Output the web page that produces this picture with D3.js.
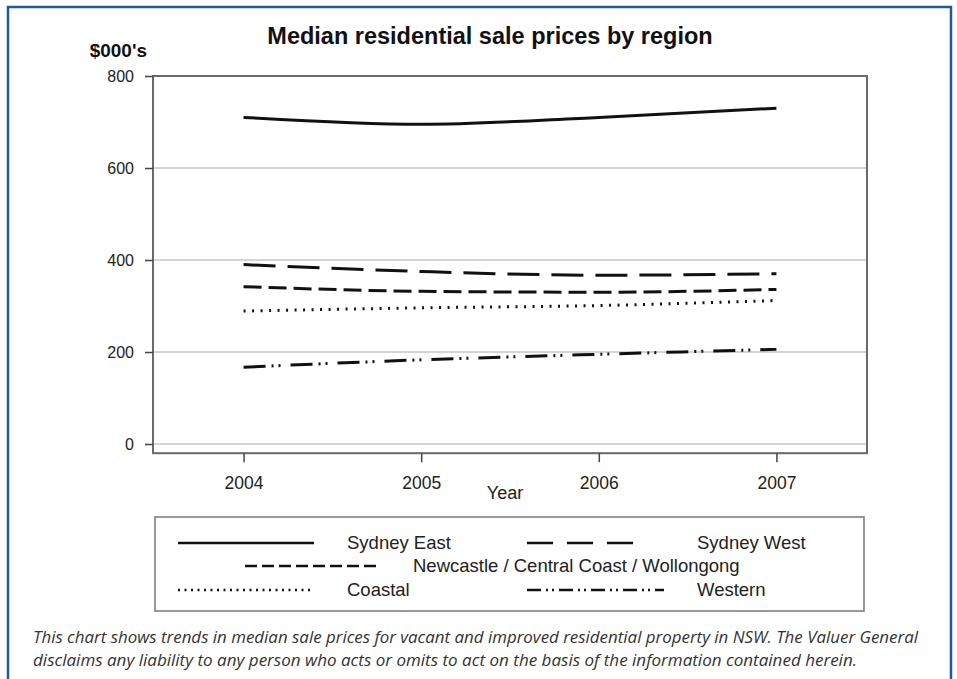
<!DOCTYPE html>
<html>
  <head>
    <title>Median residential sale prices by region</title>
    <script src="https://cdn.jsdelivr.net/npm/d3@7/dist/d3.min.js"></script>
    <style type="text/css">
      body { margin: 0; background: #fff; }
      svg { display: block; }
    </style>
  </head>
  <body>
    <script type="text/javascript">

      // Data
      var years = [2004, 2005, 2006, 2007];
      var seriesNames = ["Sydney East", "Sydney West", "Newcastle / Central Coast / Wollongong", "Coastal", "Western"];
      var sydneyEast = [710, 695, 710, 730];
      var sydneyWest = [390, 375, 367, 370];
      var newcastle = [342, 332, 330, 336];
      var coastal = [289, 296, 301, 312];
      var western = [167, 183, 195, 206];
      var yTicks = [0, 200, 400, 600, 800];

      var allValues = [sydneyEast, sydneyWest, newcastle, coastal, western];
      // dash patterns: [in plot, in legend]
      var dashes = [
        ["none", "none"],
        ["32,12", "26,14"],
        ["18,7", "12,5"],
        ["2,6.5", "2,4.5"],
        ["22,6,2,5,2,10", "14,5,2,4,2,5"]
      ];

      var font = "Liberation Sans, Arial, sans-serif";
      var width = 957, height = 679;
      var svg = d3.select("body").append("svg")
          .attr("width", width)
          .attr("height", height);

      // Blue outer border
      svg.append("rect")
          .attr("x", 8).attr("y", 7)
          .attr("width", 943).attr("height", 700)
          .style("fill", "none")
          .style("stroke", "#1f5b98")
          .style("stroke-width", 2.5);

      // Scales
      var x = d3.scaleLinear().domain([2003.49, 2007.51]).range([153, 867]);
      var y = d3.scaleLinear().domain([0, 800]).range([444, 76]);

      // Gridlines
      svg.append("g").selectAll("line")
          .data(yTicks.slice(0, 4))
          .enter().append("line")
          .attr("x1", x(2003.49)).attr("x2", x(2007.51))
          .attr("y1", function(d) { return y(d); })
          .attr("y2", function(d) { return y(d); })
          .style("stroke", "#d4d4d4")
          .style("stroke-width", 2);

      // Frame
      svg.append("rect")
          .attr("x", x(2003.49)).attr("y", y(800))
          .attr("width", x(2007.51) - x(2003.49))
          .attr("height", y(-20) - y(800))
          .style("fill", "none")
          .style("stroke", "#6a6a6a")
          .style("stroke-width", 2);

      // Y axis
      var yAxis = svg.append("g")
          .attr("transform", "translate(" + x(2003.49) + ",0)")
          .call(d3.axisLeft(y).tickValues(yTicks).tickSize(8).tickPadding(11));
      yAxis.select(".domain").remove();
      yAxis.selectAll("line").style("stroke", "#444").style("stroke-width", 1.5);
      yAxis.selectAll("text")
          .style("font-family", font)
          .style("font-size", "16px")
          .style("fill", "#222");

      // X axis
      var xAxis = svg.append("g")
          .attr("transform", "translate(0," + y(-20) + ")")
          .call(d3.axisBottom(x).tickValues(years).tickFormat(d3.format("d")).tickSize(9).tickPadding(14));
      xAxis.select(".domain").remove();
      xAxis.selectAll("line").style("stroke", "#444").style("stroke-width", 1.5);
      xAxis.selectAll("text")
          .style("font-family", font)
          .style("font-size", "17.5px")
          .style("fill", "#222");

      svg.append("text")
          .attr("x", 505).attr("y", 499)
          .attr("text-anchor", "middle")
          .style("font-family", font)
          .style("font-size", "18px")
          .style("fill", "#222")
          .text("Year");

      // Titles
      svg.append("text")
          .attr("x", 490).attr("y", 44)
          .attr("text-anchor", "middle")
          .style("font-family", font)
          .style("font-weight", "bold")
          .style("font-size", "23.5px")
          .style("fill", "#111")
          .text("Median residential sale prices by region");

      svg.append("text")
          .attr("x", 147).attr("y", 57)
          .attr("text-anchor", "end")
          .style("font-family", font)
          .style("font-weight", "bold")
          .style("font-size", "19px")
          .style("fill", "#111")
          .text("$000's");

      // Lines
      var line = d3.line()
          .x(function(d, i) { return x(years[i]); })
          .y(function(d) { return y(d); })
          .curve(d3.curveMonotoneX);

      svg.append("g").selectAll("path")
          .data(allValues)
          .enter().append("path")
          .attr("d", line)
          .style("fill", "none")
          .style("stroke", "#111")
          .style("stroke-width", 3)
          .style("stroke-dasharray", function(d, i) { return dashes[i][0]; });

      // Legend
      svg.append("rect")
          .attr("x", 155).attr("y", 517)
          .attr("width", 709).attr("height", 94)
          .style("fill", "none")
          .style("stroke", "#777")
          .style("stroke-width", 1.5);

      var legendPos = [
        { x1: 178, x2: 314, tx: 347, ty: 543 },
        { x1: 527, x2: 633, tx: 697, ty: 543 },
        { x1: 245, x2: 380, tx: 413, ty: 566 },
        { x1: 178, x2: 314, tx: 347, ty: 590 },
        { x1: 527, x2: 664, tx: 697, ty: 590 }
      ];

      var legend = svg.append("g").selectAll("g")
          .data(seriesNames)
          .enter().append("g");

      legend.append("line")
          .attr("x1", function(d, i) { return legendPos[i].x1; })
          .attr("x2", function(d, i) { return legendPos[i].x2; })
          .attr("y1", function(d, i) { return legendPos[i].ty; })
          .attr("y2", function(d, i) { return legendPos[i].ty; })
          .style("stroke", "#111")
          .style("stroke-width", 2.5)
          .style("stroke-dasharray", function(d, i) { return dashes[i][1]; });

      legend.append("text")
          .attr("x", function(d, i) { return legendPos[i].tx; })
          .attr("y", function(d, i) { return legendPos[i].ty + 6; })
          .style("font-family", font)
          .style("font-size", "18.5px")
          .style("fill", "#222")
          .text(function(d) { return d; });

      // Footnote
      var note = [
        "This chart shows trends in median sale prices for vacant and improved residential property in NSW. The Valuer General",
        "disclaims any liability to any person who acts or omits to act on the basis of the information contained herein."
      ];
      var noteWidths = [885, 824];
      svg.append("g").selectAll("text")
          .data(note)
          .enter().append("text")
          .attr("x", 33)
          .attr("y", function(d, i) { return 643 + i * 23; })
          .attr("textLength", function(d, i) { return noteWidths[i]; })
          .attr("lengthAdjust", "spacingAndGlyphs")
          .style("font-family", "Open Sans, sans-serif")
          .style("font-style", "italic")
          .style("font-size", "16px")
          .style("fill", "#333")
          .text(function(d) { return d; });

    </script>
  </body>
</html>
